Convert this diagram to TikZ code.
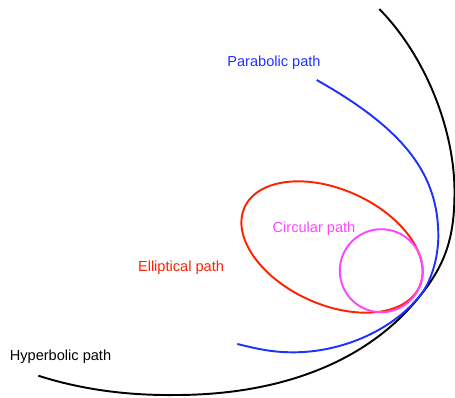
\documentclass[tikz,border=0pt]{standalone}
\usepackage{fontspec}
\setmainfont{Liberation Sans}
\usepackage{tikz}
\definecolor{hypcol}{RGB}{0,0,0}
\definecolor{parcol}{RGB}{30,50,255}
\definecolor{ellcol}{RGB}{255,34,0}
\definecolor{circol}{RGB}{255,70,255}
\tikzset{
    orbit/.style = {line width=1.1pt},
    lbl/.style = {inner sep=0pt, font=\fontsize{8.3}{10}\selectfont}
}

\begin{document}
\begin{tikzpicture}[x=0.02cm, y=-0.02cm]
        \useasboundingbox (0, 0) rectangle (455, 397);

        \draw[orbit, hypcol] (379.3, 9)
            .. controls (424.4, 54.8) and (454.5, 128) .. (454.5, 192)
            .. controls (454.5, 238.9) and (445.1, 265.9) .. (416.7, 300)
            .. controls (365.4, 361.8) and (280.8, 395) .. (175, 395)
            .. controls (125, 395.5) and (80, 389) .. (38.3, 375.7);
        \draw[orbit, parcol] (316.7, 80)
            .. controls (404, 129.2) and (438.3, 174) .. (438.3, 236)
            .. controls (438.3, 256.7) and (431.7, 280) .. (421.7, 293.3)
            .. controls (395.2, 328.7) and (343.8, 352.3) .. (293.3, 352.3)
            .. controls (270, 352.3) and (254.8, 348.1) .. (237.3, 344);
        \draw[orbit, ellcol, rotate around={-24.4:(332, 247)}] (332, 247)
            ellipse [x radius=96, y radius=57.5];
        \draw[orbit, circol] (381.3, 270.7) circle [radius=41.5];

        \node[lbl, hypcol] (hyplabel) at (60.5, 357) {Hyperbolic path};
        \node[lbl, parcol] (parlabel) at (274, 63) {Parabolic path};
        \node[lbl, ellcol] (elllabel) at (181, 268) {Elliptical path};
        \node[lbl, circol] (cirlabel) at (314, 229) {Circular path};
    \end{tikzpicture}
\end{document}
